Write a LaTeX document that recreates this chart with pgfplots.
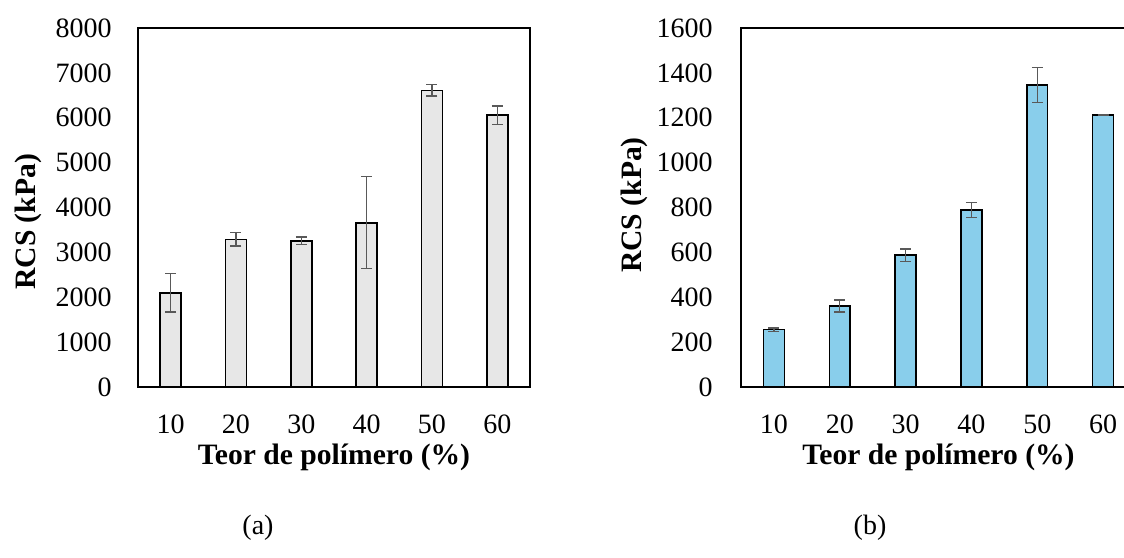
\documentclass[border=0pt]{standalone}
\usepackage{fontspec}
\setmainfont{Liberation Serif}
\usepackage{pgfplots}
\pgfplotsset{compat=1.18}
\definecolor{barA}{HTML}{E7E7E7}
\definecolor{barB}{HTML}{89CEEB}
\definecolor{errc}{HTML}{595959}
\pgfplotsset{
  mystyle/.style={
    scale only axis,
    anchor=south west,
    height=179.5pt,
    ymin=0,
    xmin=-0.5, xmax=5.5,
    xtick={0,1,2,3,4,5},
    xticklabels={10,20,30,40,50,60},
    major tick length=0pt,
    axis line style={line width=0.75pt, black},
    /pgf/number format/assume math mode=true,
    /pgf/number format/1000 sep={},
    tick label style={font=\fontsize{14}{17}\selectfont},
    label style={font=\fontsize{14.8}{17}\selectfont\bfseries},
    xticklabel shift=9.3pt,
    xlabel={Teor de polímero (\%)},
    ylabel={RCS (kPa)},
    xlabel style={at={(axis description cs:0.5,0)}, anchor=base, yshift=-38.5pt},
    ybar,
    bar width=10.4pt,
  },
  mybars/.style={
    draw=black, line width=0.8pt, bar shift=0pt,
    error bars/.cd, y dir=both, y explicit,
    error bar style={color=errc, line width=0.6pt},
    error mark options={rotate=90, color=errc, mark size=2.75pt, line width=0.6pt},
  }
}
\begin{document}
\fontsize{14}{17}\selectfont
\begin{tikzpicture}[font=\fontsize{14}{17}\selectfont]
\useasboundingbox (0,0) rectangle (562pt,278.5pt);
\clip (0,0) rectangle (562pt,278.5pt);
\begin{axis}[mystyle,
  at={(69pt,85pt)},
  width=196pt,
  ymax=8000, ytick={0,1000,...,8000},
  yticklabel shift=8.3pt,
  ylabel style={at={(axis description cs:-0.2806,0.46)}, anchor=center},
]
\addplot[fill=barA, mybars] coordinates {
 (0,2100) +- (0,430)
 (1,3290) +- (0,148)
 (2,3260) +- (0,82)
 (3,3660) +- (0,1025)
 (4,6610) +- (0,127)
 (5,6055) +- (0,205)
};
\end{axis}
\begin{axis}[mystyle,
  at={(370.5pt,85pt)},
  width=197.5pt,
  ymax=1600, ytick={0,200,...,1600},
  yticklabel shift=9.3pt,
  ylabel style={at={(axis description cs:-0.271,0.507)}, anchor=center},
]
\addplot[fill=barB, mybars] coordinates {
 (0,256) +- (0,7)
 (1,361) +- (0,27)
 (2,588) +- (0,27)
 (3,789) +- (0,35)
 (4,1345) +- (0,78)
 (5,1211) +- (0,2)
};
\end{axis}
\node[anchor=base] at (129pt,11.5pt) {(a)};
\node[anchor=base] at (435pt,11.5pt) {(b)};
\end{tikzpicture}
\end{document}
